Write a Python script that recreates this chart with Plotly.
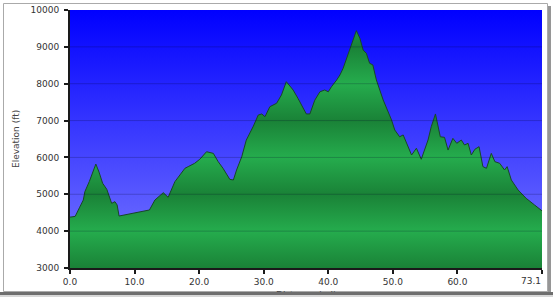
import plotly.graph_objects as go

# ---------------- data ----------------
distance_mi = [0.0, 0.8, 1.5, 2.06, 2.3, 3.0, 4.0, 4.5, 5.05, 5.4, 5.7, 6.45, 6.96, 7.3, 7.6,
               12.3, 13.15, 14.45, 15.2, 16.25, 17.8, 18.3, 19.3, 20.1, 21.15, 22.2, 22.95,
               23.7, 24.75, 25.3, 25.8, 26.6, 27.3, 28.4, 29.15, 29.7, 30.2, 30.95, 31.45,
               32.0, 32.75, 33.5, 34.05, 34.55, 35.3, 36.1, 36.6, 37.15, 37.9, 38.7, 39.45,
               40.0, 40.5, 41.3, 41.8, 42.3, 43.3, 44.35, 44.9, 45.4, 45.9, 46.4, 46.9,
               47.45, 48.5, 49.8, 50.3, 51.05, 51.6, 52.9, 53.65, 54.4, 55.45, 55.95, 56.6,
               57.0, 57.35, 58.0, 58.55, 59.3, 59.9, 60.6, 61.1, 61.65, 62.15, 62.7, 63.35,
               63.95, 64.5, 65.25, 65.8, 66.55, 67.3, 67.7, 68.35, 69.4, 70.65, 71.95, 73.1]
elevation_ft = [4380, 4400, 4650, 4845, 5070, 5350, 5820, 5600, 5300, 5190, 5135, 4755, 4800, 4710, 4410,
                4574, 4845, 5044, 4918, 5343, 5705, 5750, 5840, 5950, 6155, 6110, 5885,
                5705, 5405, 5388, 5660, 6020, 6470, 6850, 7150, 7180, 7105, 7376, 7420,
                7470, 7695, 8055, 7938, 7830, 7605, 7333, 7180, 7180, 7550, 7780, 7830,
                7780, 7920, 8100, 8236, 8418, 8915, 9440, 9230, 8915, 8825, 8555, 8510,
                8100, 7560, 7015, 6744, 6560, 6610, 6066, 6250, 5950, 6473, 6835, 7180,
                6880, 6560, 6545, 6200, 6518, 6383, 6473, 6337, 6383, 6066, 6220, 6292,
                5750, 5705, 6110, 5885, 5840, 5660, 5750, 5388, 5116, 4890, 4710, 4550]
x_tick_vals = [0, 10, 20, 30, 40, 50, 60, 73.1]
x_tick_text = ["0.0", "10.0", "20.0", "30.0", "40.0", "50.0", "60.0", "73.1"]
y_tick_vals = [3000, 4000, 5000, 6000, 7000, 8000, 9000, 10000]
y_tick_text = ["3000", "4000", "5000", "6000", "7000", "8000", "9000", "10000"]
x_title = "Distance (mi)"
y_title = "Elevation (ft)"

X_RANGE = [0, 73.1]
Y_RANGE = [3000, 10000]

# ---------------- layout geometry (pixels) ----------------
W, H = 553, 297
L, R, T, B = 70, 542, 10, 268


def px(x):
    return (x - L) / (R - L)


def py(y):
    return (B - y) / (B - T)


fig = go.Figure()

# sky background gradient
fig.add_trace(go.Scatter(
    x=[X_RANGE[0], X_RANGE[1], X_RANGE[1], X_RANGE[0], X_RANGE[0]],
    y=[Y_RANGE[0], Y_RANGE[0], Y_RANGE[1], Y_RANGE[1], Y_RANGE[0]],
    mode="lines", line=dict(width=0), fill="toself",
    fillgradient=dict(type="vertical", start=Y_RANGE[0], stop=Y_RANGE[1],
                      colorscale=[[0, "rgb(122,122,255)"], [1, "rgb(0,0,255)"]]),
    hoverinfo="skip", showlegend=False))

# baseline for terrain fill
fig.add_trace(go.Scatter(
    x=distance_mi, y=[Y_RANGE[0]] * len(distance_mi), mode="lines",
    line=dict(width=0), hoverinfo="skip", showlegend=False))

# terrain fill with banded gradient
dark, light = "rgb(26,130,55)", "rgb(37,172,77)"
n_bands = len(y_tick_vals) - 1
scale = [[i / n_bands, dark if i % 2 == 0 else light] for i in range(n_bands + 1)]
fig.add_trace(go.Scatter(
    x=distance_mi, y=elevation_ft, mode="lines",
    line=dict(color="rgb(24,70,40)", width=1),
    fill="tonexty",
    fillgradient=dict(type="vertical", start=Y_RANGE[0], stop=Y_RANGE[1], colorscale=scale),
    hoverinfo="skip", showlegend=False))

shapes = []
# frame with shadow
shapes.append(dict(type="rect", xref="paper", yref="paper", layer="below",
                   x0=px(6), x1=px(551), y0=py(6), y1=py(296),
                   fillcolor="rgb(150,150,150)", line=dict(width=0)))
shapes.append(dict(type="rect", xref="paper", yref="paper", layer="below",
                   x0=px(3.5), x1=px(547.5), y0=py(3.5), y1=py(291.5),
                   fillcolor="white", line=dict(color="rgb(170,170,170)", width=1)))
# gridlines drawn over the fill
for v in y_tick_vals[1:-1]:
    shapes.append(dict(type="line", xref="x", yref="y", layer="above",
                       x0=X_RANGE[0], x1=X_RANGE[1], y0=v, y1=v,
                       line=dict(color="rgba(0,0,40,0.22)", width=1)))

tick_font = dict(family="DejaVu Sans", size=9, color="#333")

annotations = [
    dict(text=y_title, xref="paper", yref="paper", x=px(16), y=0.5,
         textangle=-90, showarrow=False, xanchor="center", yanchor="middle",
         font=dict(family="DejaVu Sans", size=9, color="#444")),
    dict(text=x_title, xref="paper", yref="paper", x=px(306), y=py(295),
         showarrow=False, xanchor="center", yanchor="middle",
         font=dict(family="DejaVu Sans", size=9, color="#444")),
    dict(text=" ", xref="paper", yref="paper", x=px(276), y=py(293),
         showarrow=False, xanchor="center", yanchor="middle",
         width=560, height=3, borderpad=0, borderwidth=0,
         bgcolor="rgb(110,110,110)", font=dict(size=1)),
    dict(text=" ", xref="paper", yref="paper", x=px(276), y=py(296),
         showarrow=False, xanchor="center", yanchor="middle",
         width=560, height=3, borderpad=0, borderwidth=0,
         bgcolor="rgb(215,215,215)", font=dict(size=1)),
    # last x tick label is right-aligned to its tick so it stays inside the frame
    dict(text=x_tick_text[-1], xref="x", yref="paper", x=x_tick_vals[-1], y=py(281),
         showarrow=False, xanchor="right", yanchor="middle", xshift=1,
         font=tick_font),
]

shown_x_text = x_tick_text[:-1] + [""]

axis_common = dict(showgrid=False, zeroline=False, showline=True, automargin=False,
                   linecolor="#1a1a1a", linewidth=2, ticks="outside", ticklen=4,
                   tickwidth=1.5, tickcolor="#1a1a1a", fixedrange=True,
                   tickfont=tick_font)

fig.update_layout(
    width=W, height=H,
    margin=dict(l=L, r=W - R, t=T, b=H - B, pad=0, autoexpand=False),
    paper_bgcolor="white", plot_bgcolor="rgba(0,0,0,0)",
    showlegend=False,
    xaxis=dict(range=X_RANGE, tickmode="array", tickvals=x_tick_vals,
               ticktext=shown_x_text, **axis_common),
    yaxis=dict(range=Y_RANGE, tickmode="array", tickvals=y_tick_vals,
               ticktext=y_tick_text, ticklabelstandoff=3, **axis_common),
    shapes=shapes,
    annotations=annotations,
)

fig.write_html("out.html", config={"displayModeBar": False})
